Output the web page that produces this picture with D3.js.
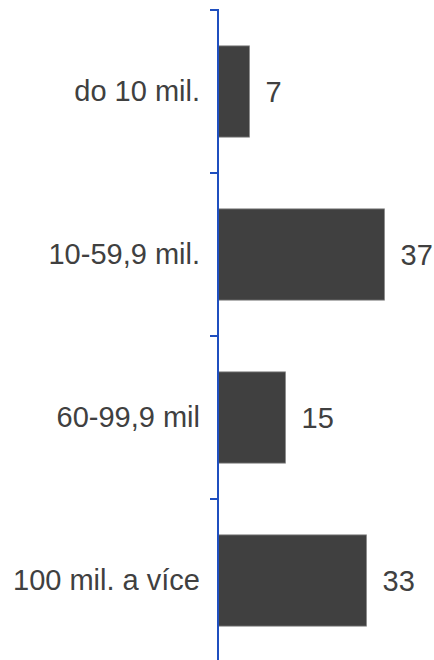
<!DOCTYPE html>
<html>
<head>
<meta charset="utf-8">
<script src="https://cdn.jsdelivr.net/npm/d3@7/dist/d3.min.js"></script>
<style>
  html, body { margin: 0; padding: 0; background: #fff; }
  svg { display: block; }
  text { font-family: "Liberation Sans", Arial, sans-serif; fill: #404040; }
</style>
</head>
<body>
<svg id="chart" width="434" height="660"></svg>
<script>
// Revenue size groups and counts
const categories = ["do 10 mil.", "10-59,9 mil.", "60-99,9 mil", "100 mil. a více"];
const values = [7, 37, 15, 33];

const svg = d3.select("#chart");
const axisX = 218;
const fontSize = 29;

const y = d3.scaleBand()
  .domain(categories)
  .range([10, 662])
  .paddingInner(0.44)
  .paddingOuter(0.22);

const x = d3.scaleLinear()
  .domain([0, 40])
  .range([axisX, axisX + 180]);

// Bars
svg.append("g")
  .selectAll("rect")
  .data(categories)
  .join("rect")
  .attr("x", x(0))
  .attr("y", d => y(d))
  .attr("width", (d, i) => x(values[i]) - x(0))
  .attr("height", y.bandwidth())
  .attr("fill", "#404040")
  .attr("stroke", "#8a8a8a")
  .attr("stroke-width", 0.8);

// Value labels to the right of each bar
svg.append("g")
  .selectAll("text")
  .data(categories)
  .join("text")
  .attr("x", (d, i) => x(values[i]) + 16)
  .attr("y", d => y(d) + y.bandwidth() / 2)
  .attr("dy", "0.35em")
  .attr("font-size", fontSize)
  .text((d, i) => values[i]);

// Category axis: labels centred on bands, ticks on band boundaries
const axis = svg.append("g").attr("transform", `translate(${axisX},0)`);
axis.call(d3.axisLeft(y).tickSize(0).tickPadding(18));
axis.select(".domain").remove();
axis.selectAll(".tick text")
  .attr("font-size", fontSize)
  .attr("font-family", "Liberation Sans, Arial, sans-serif")
  .attr("fill", "#404040");

const step = y.step();
const boundaries = d3.range(categories.length + 1).map(i => y.range()[0] + i * step);
axis.selectAll("line.sep")
  .data(boundaries)
  .join("line")
  .attr("class", "sep")
  .attr("x1", -8).attr("x2", 0)
  .attr("y1", d => d).attr("y2", d => d)
  .attr("stroke", "#1f4fbf")
  .attr("stroke-width", 2);

axis.append("line")
  .attr("x1", 0).attr("x2", 0)
  .attr("y1", y.range()[0] - 1)
  .attr("y2", y.range()[1])
  .attr("stroke", "#1f4fbf")
  .attr("stroke-width", 2);
</script>
</body>
</html>
